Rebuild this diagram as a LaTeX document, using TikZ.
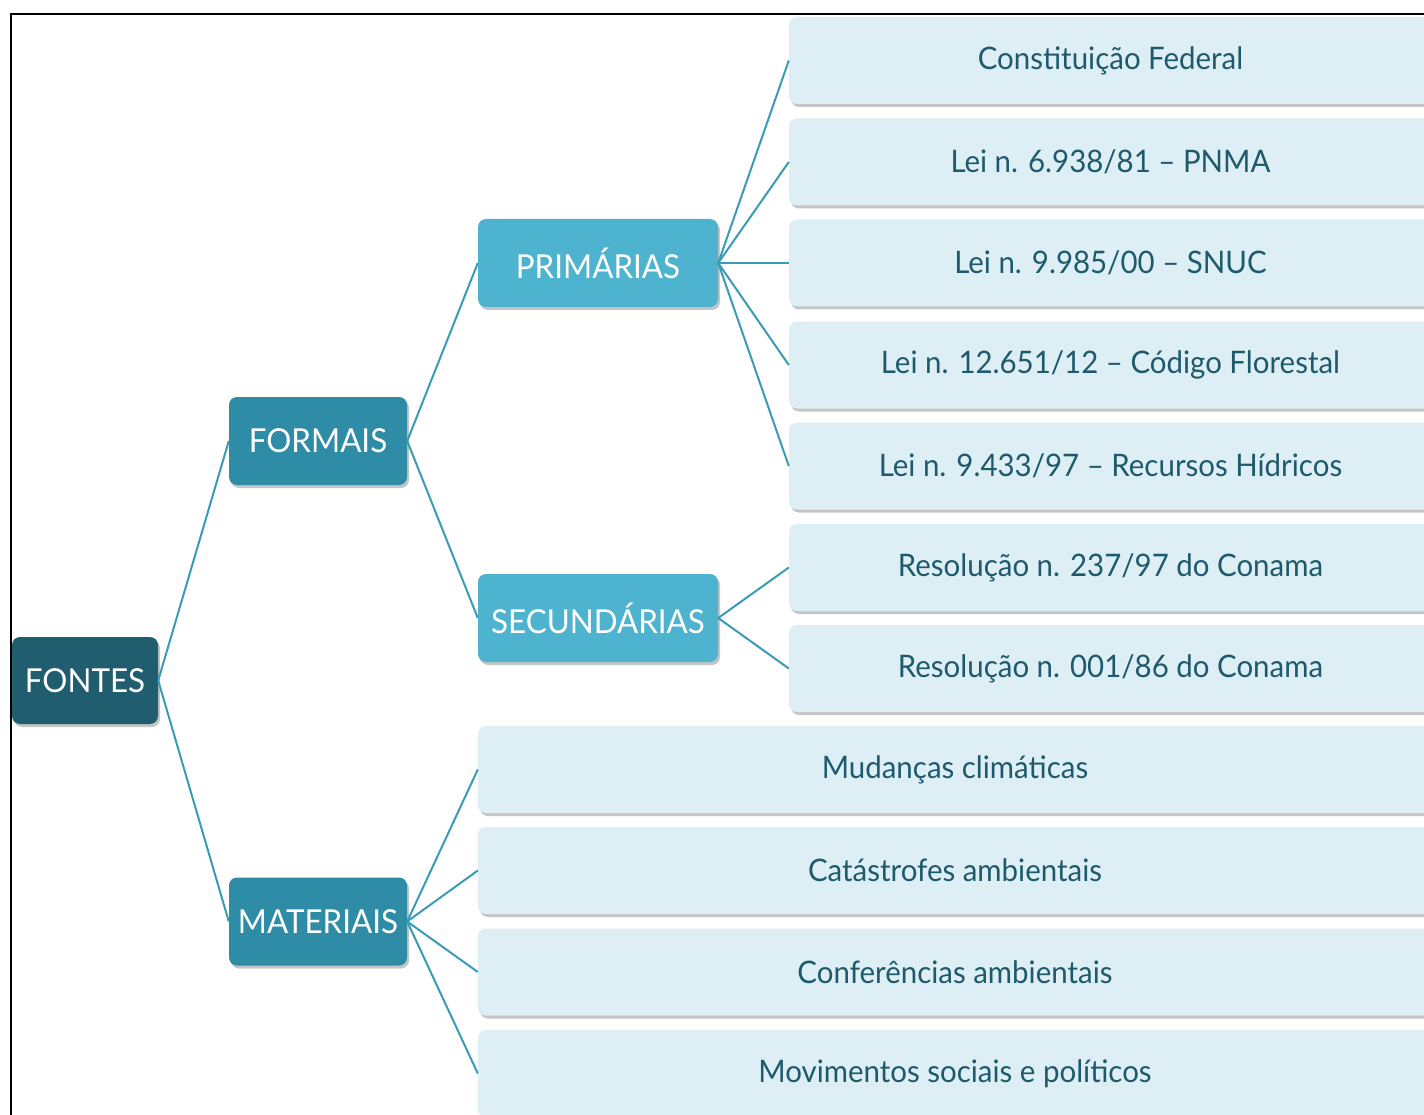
\documentclass[tikz,border=0pt]{standalone}
\usepackage{fontspec}
\setmainfont{Lato}[FakeStretch=0.95]
\usetikzlibrary{shadows}
\definecolor{cRoot}{HTML}{1F5D6F}
\definecolor{cMid}{HTML}{2E8CA7}
\definecolor{cSub}{HTML}{4DB3CF}
\definecolor{cLeaf}{HTML}{DDEFF5}
\definecolor{cLeafText}{HTML}{1E5A6C}
\definecolor{cLine}{HTML}{3A9BB6}
\tikzset{
  box/.style={rectangle, rounded corners=8pt, inner sep=0pt, font=\fontsize{31}{36}\selectfont,
    drop shadow={opacity=0.45, shadow xshift=2pt, shadow yshift=-3pt}},
  darkbox/.style={box, text=white, font=\fontsize{33}{38}\selectfont},
  rootbox/.style={darkbox, fill=cRoot, minimum width=146pt, minimum height=87pt},
  midbox/.style={darkbox, fill=cMid, minimum width=178pt, minimum height=88pt},
  subbox/.style={darkbox, fill=cSub, minimum width=240pt, minimum height=88pt},
  leafbox/.style={box, fill=cLeaf, text=cLeafText, minimum width=643pt, minimum height=87pt},
  matbox/.style={box, fill=cLeaf, text=cLeafText, minimum width=954pt, minimum height=87pt},
  link/.style={draw=cLine, line width=2pt},
}
\begin{document}
\begin{tikzpicture}[x=1pt,y=-1pt]
\useasboundingbox (0,0) rectangle (1424,1115);
\clip (0,0) rectangle (1424,1115);
\fill[white] (0,0) rectangle (1424,1115);
\draw[black, line width=2pt] (11,1120) -- (11,14) -- (1430,14);

\node[rootbox] (fontes) at (85,680.5) {FONTES};
\node[midbox] (formais) at (318,441) {FORMAIS};
\node[midbox] (materiais) at (318,921.5) {MATERIAIS};
\node[subbox] (prim) at (598,263) {PRIMÁRIAS};
\node[subbox] (sec) at (598,618) {SECUNDÁRIAS};

\node[leafbox] (l1) at (1110.5,60.5) {Constituição Federal};
\node[leafbox] (l2) at (1110.5,162) {Lei n. 6.938/81 – PNMA};
\node[leafbox] (l3) at (1110.5,263) {Lei n. 9.985/00 – SNUC};
\node[leafbox] (l4) at (1110.5,365) {Lei n. 12.651/12 – Código Florestal};
\node[leafbox] (l5) at (1110.5,466) {Lei n. 9.433/97 – Recursos Hídricos};
\node[leafbox] (l6) at (1110.5,567.5) {Resolução n. 237/97 do Conama};
\node[leafbox] (l7) at (1110.5,668.5) {Resolução n. 001/86 do Conama};

\node[matbox] (m1) at (955,769.5) {Mudanças climáticas};
\node[matbox] (m2) at (955,870.5) {Catástrofes ambientais};
\node[matbox] (m3) at (955,972) {Conferências ambientais};
\node[matbox] (m4) at (955,1073.5) {Movimentos sociais e políticos};

\draw[link] (fontes.east) -- (formais.west);
\draw[link] (fontes.east) -- (materiais.west);
\draw[link] (formais.east) -- (prim.west);
\draw[link] (formais.east) -- (sec.west);
\foreach \n in {l1,l2,l3,l4,l5} \draw[link] (prim.east) -- (\n.west);
\foreach \n in {l6,l7} \draw[link] (sec.east) -- (\n.west);
\foreach \n in {m1,m2,m3,m4} \draw[link] (materiais.east) -- (\n.west);
\end{tikzpicture}
\end{document}
